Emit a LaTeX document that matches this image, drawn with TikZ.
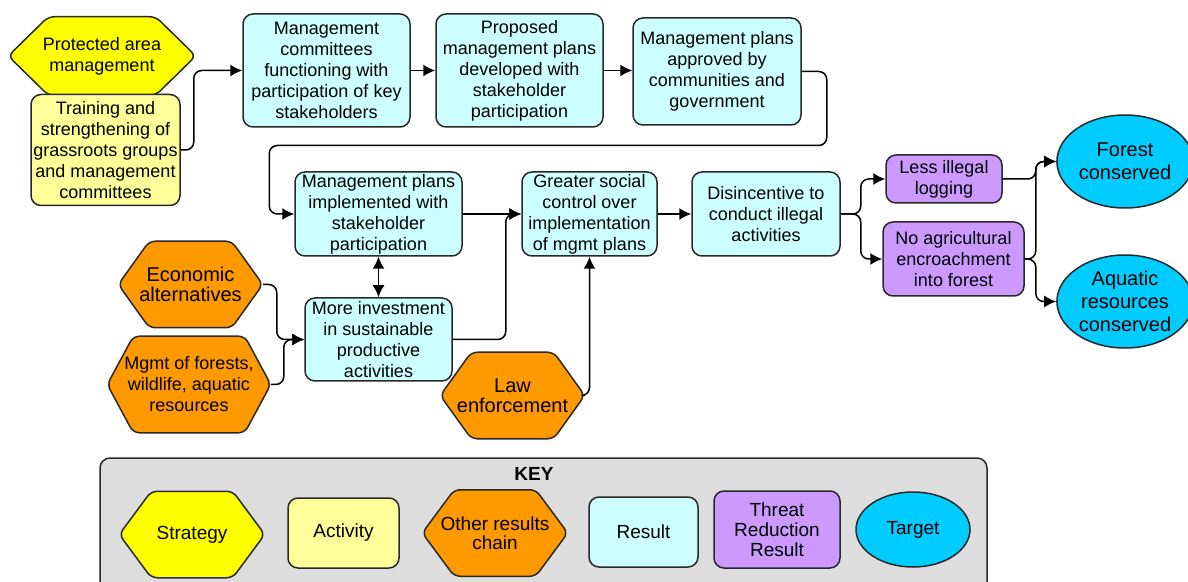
\documentclass[tikz,border=0pt]{standalone}
\usepackage{fontspec}
\setmainfont{Liberation Sans}
\usetikzlibrary{shapes.geometric, arrows.meta, backgrounds}

\definecolor{stratcol}{RGB}{255,255,0}
\definecolor{actcol}{RGB}{255,255,153}
\definecolor{rescol}{RGB}{204,255,255}
\definecolor{threatcol}{RGB}{204,153,255}
\definecolor{othercol}{RGB}{255,153,0}
\definecolor{targetcol}{RGB}{0,204,255}
\definecolor{keycol}{RGB}{221,221,221}
\definecolor{edgecol}{RGB}{40,40,40}

\tikzset{
  box/.style={draw=edgecol, line width=0.75pt, rounded corners=5pt, align=center, inner sep=1pt, font=\fontsize{9}{10.5}\selectfont},
  activity/.style={box, fill=actcol},
  result/.style={box, fill=rescol},
  threatres/.style={box, fill=threatcol},
  hexa/.style={box, draw=none},
  target/.style={box, ellipse, fill=targetcol},
  conn/.style={line width=0.75pt, rounded corners=4pt, -{Latex[length=6pt,width=6pt]}},
}

\begin{document}
\begin{tikzpicture}[x=0.5pt,y=0.5pt,yscale=-1]
\useasboundingbox (0,0) rectangle (1188,582);

% strategy and activity
\node[hexa, minimum width=93pt, minimum height=38.5pt] (protect) at (102,56) {Protected area\\management};
\node[activity, minimum width=74.5pt, minimum height=55.5pt] (train) at (105.5,150) {Training and\\strengthening of\\grassroots groups\\and management\\committees};

% results, first row
\node[result, minimum width=83.5pt, minimum height=56.5pt] (mgc) at (326.5,70.5) {Management\\committees\\functioning with\\participation of key\\stakeholders};
\node[result, minimum width=83.5pt, minimum height=56.5pt] (prop) at (519.5,70.5) {Proposed\\management plans\\developed with\\stakeholder\\participation};
\node[result, minimum width=84pt, minimum height=53.5pt] (appr) at (717,71.5) {Management plans\\approved by\\communities and\\government};

% results, second row
\node[result, minimum width=83.5pt, minimum height=42pt] (impl) at (378.5,214) {Management plans\\implemented with\\stakeholder\\participation};
\node[result, minimum width=67.5pt, minimum height=42pt] (social) at (589.5,214) {Greater social\\control over\\implementation\\of mgmt plans};
\node[result, minimum width=74pt, minimum height=42pt] (disinc) at (766,214) {Disincentive to\\conduct illegal\\activities};
\node[result, minimum width=73.5pt, minimum height=41.5pt] (invest) at (378.5,339.5) {More investment\\in sustainable\\productive\\activities};

% other results chains
\node[hexa, minimum width=71.5pt, minimum height=42.5pt, font=\fontsize{10}{10}\selectfont] (econ) at (190.5,284.5) {Economic\\alternatives};
\node[hexa, minimum width=81pt, minimum height=47.5pt] (mgmtf) at (189,384.5) {Mgmt of forests,\\wildlife, aquatic\\resources};
\node[hexa, minimum width=71.5pt, minimum height=42.5pt, font=\fontsize{10}{10}\selectfont] (law) at (512.5,395.5) {Law\\enforcement};

% threat reduction results and targets
\node[threatres, minimum width=58pt, minimum height=24pt] (less) at (944,179) {Less illegal\\logging};
\node[threatres, minimum width=70.5pt, minimum height=37pt] (noagri) at (953.5,259) {No agricultural\\encroachment\\into forest};
\node[target, minimum width=65pt, minimum height=46.5pt, font=\fontsize{10}{11.5}\selectfont] (forest) at (1125,161.5) {Forest\\conserved};
\node[target, minimum width=65pt, minimum height=46.5pt, font=\fontsize{10}{11.5}\selectfont] (aqua) at (1125,301.5) {Aquatic\\resources\\conserved};

% connectors
\draw[conn] (train.east) -- ++(13,0) |- (mgc.west);
\draw[conn] (mgc) -- (prop);
\draw[conn] (prop.east) -- (prop.east -| appr.west);
\draw[conn] (appr.east) -- ++(25,0) -- ++(0,74) -| ([xshift=-12.5pt]impl.west) -- (impl.west);
\draw[conn] (impl.east) -- (social.west);
\draw[conn] (invest.east) -- ++(53,0) |- (social.west);
\draw[conn] (law.east) -| (social.south);
\draw[conn, {Latex[length=6pt,width=6pt]}-{Latex[length=6pt,width=6pt]}] (impl.south) -- (invest.north);
\draw[conn] (econ.east) -- ++(14,0) |- (invest.west);
\draw[conn] (mgmtf.east) -- ++(13,0) |- (invest.west);
\draw[conn] (social.east) -- (disinc.west);
\draw[conn] (disinc.east) -- ++(20,0) |- (less.west);
\draw[conn] (disinc.east) -- ++(20,0) |- (noagri.west);
\draw[conn] (less.east) -- ++(33,0) |- (forest.west);
\draw[conn] (noagri.east) -- ++(11,0) |- (forest.west);
\draw[conn] (noagri.east) -- ++(11,0) |- (aqua.west);

% key
\node[font=\bfseries\fontsize{9.5}{11}\selectfont] (keytitle) at (534,474) {KEY};
\node[hexa, minimum width=72pt, minimum height=42.5pt, font=\fontsize{9.5}{11}\selectfont] (kstrat) at (192,534.5) {Strategy};
\node[activity, minimum width=55.5pt, minimum height=35pt, font=\fontsize{9.5}{11}\selectfont] (kact) at (343.5,533) {Activity};
\node[hexa, minimum width=72pt, minimum height=42.5pt, font=\fontsize{9.5}{9.5}\selectfont] (kother) at (495,533) {Other results\\chain};
\node[result, minimum width=54.5pt, minimum height=35pt, font=\fontsize{9.5}{11}\selectfont] (kres) at (643.5,532) {Result};
\node[threatres, minimum width=63pt, minimum height=38.5pt, font=\fontsize{9.5}{10}\selectfont] (kthreat) at (777,529.5) {Threat\\Reduction\\Result};
\node[target, minimum width=57pt, minimum height=37.5pt, font=\fontsize{9.5}{11}\selectfont] (ktarget) at (913,529.5) {Target};

% hexagons and key frame behind the text
\begin{scope}[on background layer]
\draw[draw=edgecol, line width=0.75pt, fill=keycol, rounded corners=5pt] (100,458) rectangle (987,600);
\foreach \n/\c/\d in {protect/stratcol/20pt, econ/othercol/15.5pt, mgmtf/othercol/13pt, law/othercol/15.5pt, kstrat/stratcol/16pt, kother/othercol/16pt}
  \draw[draw=edgecol, line width=0.75pt, fill=\c, rounded corners=3pt]
    (\n.west) -- ([xshift=\d]\n.north west) -- ([xshift=-\d]\n.north east) -- (\n.east)
    -- ([xshift=-\d]\n.south east) -- ([xshift=\d]\n.south west) -- cycle;
\end{scope}

\end{tikzpicture}
\end{document}
